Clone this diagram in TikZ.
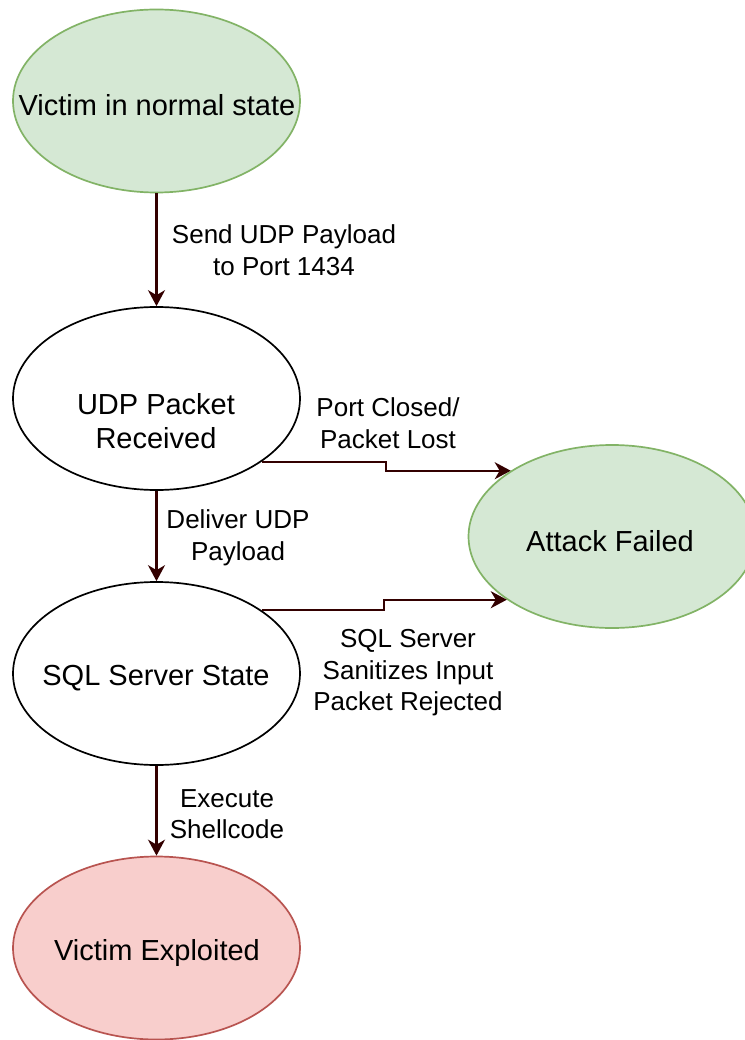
\documentclass[tikz,border=0pt]{standalone}
\usepackage{fontspec}
\setmainfont{Liberation Sans}
\usetikzlibrary{shapes.geometric,arrows.meta,calc}
\definecolor{gfill}{HTML}{D5E8D4}
\definecolor{gline}{HTML}{82B366}
\definecolor{rfill}{HTML}{F8CECC}
\definecolor{rline}{HTML}{B85450}
\definecolor{arrc}{HTML}{330000}
\tikzset{
  stateshape/.style={ellipse, draw=black, fill=white, line width=1.7pt, minimum width=287pt, minimum height=183pt, inner sep=0pt},
  greenstate/.style={stateshape, draw=gline, fill=gfill},
  redstate/.style={stateshape, draw=rline, fill=rfill},
  nodetext/.style={align=center, inner sep=0pt, font=\fontsize{29}{34}\selectfont},
  edgetext/.style={align=center, inner sep=0pt, font=\fontsize{26}{31.5}\selectfont},
  arr/.style={draw=arrc, line width=2.2pt, -{Stealth[length=16pt,width=17pt,inset=5pt]}}
}
\begin{document}
\begin{tikzpicture}[x=1pt,y=-1pt]
\useasboundingbox (0,0) rectangle (744,1040);
\node[greenstate] (v1) at (156.5,101) {};
\node[stateshape] (udp) at (156.5,398.5) {};
\node[stateshape] (sql) at (156.5,673.5) {};
\node[redstate] (vx) at (156.5,948) {};
\node[greenstate] (fail) at (612,536.5) {};

\node[nodetext] (v1t) at (157,105) {Victim in normal state};
\node[nodetext] (udpt) at (156,421) {UDP Packet\\Received};
\node[nodetext] (sqlt) at (156,678) {SQL Server State};
\node[nodetext] (vxt) at (157,953) {Victim Exploited};
\node[nodetext] (failt) at (610,541) {Attack Failed};

\draw[arr] (v1) -- (udp);
\draw[arr] (udp) -- (sql);
\draw[arr] (sql) -- (vx);
\draw[arr] (udp.-31.7) -| ($(udp.-31.7)!.5!(fail.147.7)$) |- (fail.147.7);
\draw[arr] (sql.31.5) -| ($(sql.31.5)!.5!(fail.211.9)$) |- (fail.211.9);

\node[edgetext] (l1) at (284,250) {Send UDP Payload\\to Port 1434};
\node[edgetext] (l2) at (388,423) {Port Closed/\\Packet Lost};
\node[edgetext] (l3) at (238,538) {Deliver UDP\\Payload};
\node[edgetext] (l4) at (408,673) {SQL Server\\Sanitizes Input\\Packet Rejected};
\node[edgetext] (l5) at (227,814) {Execute\\Shellcode};
\end{tikzpicture}
\end{document}
